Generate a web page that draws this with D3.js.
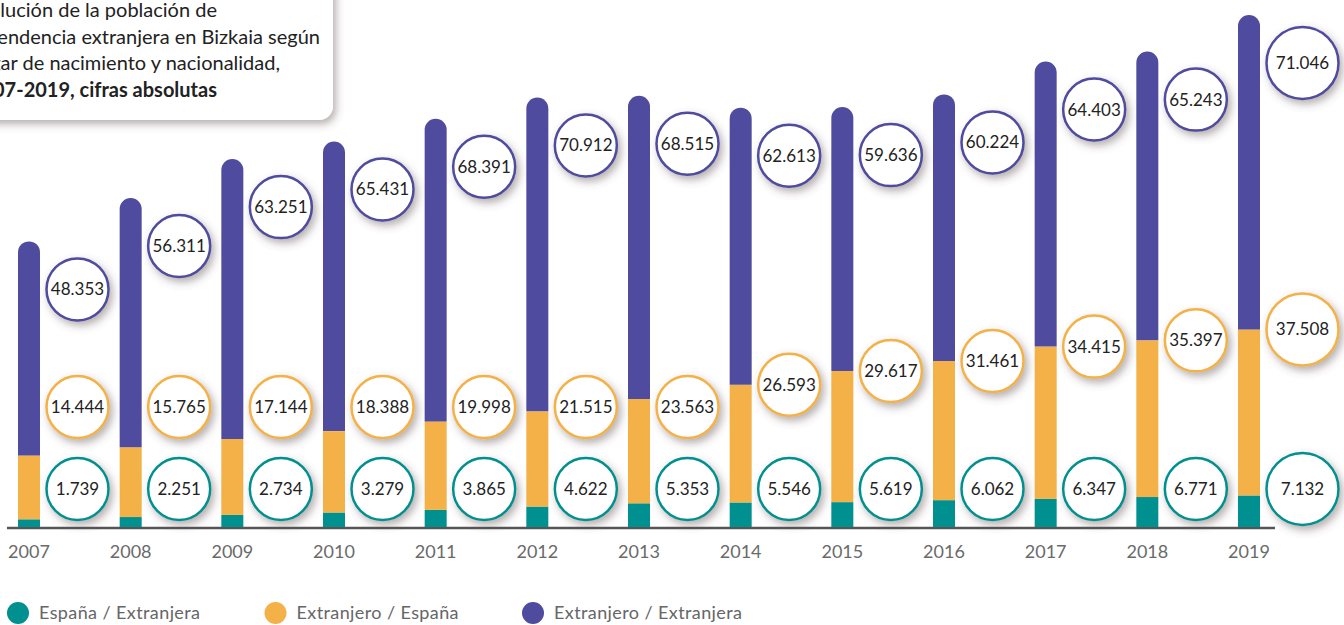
<!DOCTYPE html>
<html>
<head>
<meta charset="utf-8">
<script src="https://cdn.jsdelivr.net/npm/d3@7"></script>
<style>
    body { margin: 0; background: #fff; }
    svg { display: block; font-family: Lato, "Open Sans", sans-serif; }
</style>
</head>
<body>
<div id="chart"></div>
<script>
// Data
const years = ["2007", "2008", "2009", "2010", "2011", "2012", "2013", "2014", "2015", "2016", "2017", "2018", "2019"];
const espanaExtranjera = [1739, 2251, 2734, 3279, 3865, 4622, 5353, 5546, 5619, 6062, 6347, 6771, 7132];
const extranjeroEspana = [14444, 15765, 17144, 18388, 19998, 21515, 23563, 26593, 29617, 31461, 34415, 35397, 37508];
const extranjeroExtranjera = [48353, 56311, 63251, 65431, 68391, 70912, 68515, 62613, 59636, 60224, 64403, 65243, 71046];
const seriesNames = ["España / Extranjera", "Extranjero / España", "Extranjero / Extranjera"];
const titleLines = ["Evolución de la población de", "ascendencia extranjera en Bizkaia según", "lugar de nacimiento y nacionalidad,", "2007-2019, cifras absolutas"];

const colors = ["#00908f", "#f4b147", "#4f4b9e"];
const width = 1344, height = 625;
const baseY = 527, barW = 22;

const svg = d3.select("#chart").append("svg")
    .attr("width", width)
    .attr("height", height);

// Shadow filter for bubbles and title box
const defs = svg.append("defs");
const shadow = defs.append("filter").attr("id", "shadow")
    .attr("x", "-40%").attr("y", "-40%").attr("width", "180%").attr("height", "180%");
shadow.append("feDropShadow")
    .attr("dx", 3).attr("dy", 4)
    .attr("stdDeviation", 4)
    .attr("flood-color", "#5a4a4a")
    .attr("flood-opacity", 0.45);

const x = d3.scalePoint().domain(years).range([29, 1249]);
const totals = years.map((d, i) => espanaExtranjera[i] + extranjeroEspana[i] + extranjeroExtranjera[i]);
const y = d3.scaleLinear().domain([0, d3.max(totals)]).range([baseY, 15]);

const rows = years.map((yr, i) => {
    const a = espanaExtranjera[i], b = extranjeroEspana[i], c = extranjeroExtranjera[i];
    return { year: yr, vals: [a, b, c], stack: [[0, a], [a, a + b], [a + b, a + b + c]] };
});

// Axis baseline
svg.append("line")
    .attr("x1", 7).attr("x2", 1275)
    .attr("y1", baseY + 1).attr("y2", baseY + 1)
    .attr("stroke", "#555").attr("stroke-width", 2.5);

// Bars
const bar = svg.append("g").selectAll("g")
    .data(rows).enter().append("g");

bar.each(function(d) {
    const g = d3.select(this);
    const x0 = x(d.year) - barW / 2;
    d.stack.forEach((s, k) => {
        const top = y(s[1]), bottom = y(s[0]);
        if (k < 2) {
            g.append("rect")
                .attr("x", x0).attr("width", barW)
                .attr("y", top).attr("height", bottom - top)
                .attr("fill", colors[k]);
        } else {
            // last segment gets a rounded cap
            const r = barW / 2;
            const p = d3.path();
            p.moveTo(x0, bottom);
            p.lineTo(x0, top + r);
            p.arc(x0 + r, top + r, r, Math.PI, 0);
            p.lineTo(x0 + barW, bottom);
            p.closePath();
            g.append("path").attr("d", p.toString()).attr("fill", colors[k]);
        }
    });
});

// Value bubbles
function bubbleY(d, k) {
    if (k === 0) return 489;
    if (k === 1) {
        const t = y(d.stack[1][1]);
        return t < 395 ? t : 407;
    }
    return y(d.stack[2][1]) + 48;
}

const fmt = v => d3.format(",")(v).replace(/,/g, ".");
const bubbles = [];
rows.forEach((d, i) => {
    [0, 1, 2].forEach(k => {
        bubbles.push({ d: d, k: k, last: i === rows.length - 1 });
    });
});

const bubble = svg.append("g").selectAll("g")
    .data(bubbles).enter().append("g")
    .attr("transform", b => {
        const r = b.last ? 36.5 : 31.5;
        return `translate(${x(b.d.year) + 17 + r},${bubbleY(b.d, b.k)})`;
    });

bubble.append("circle")
    .attr("r", b => b.last ? 36 : 31)
    .attr("fill", "#fff")
    .attr("stroke", b => colors[b.k])
    .attr("stroke-width", 2.5)
    .attr("filter", "url(#shadow)");

bubble.append("text")
    .attr("text-anchor", "middle")
    .attr("dy", "0.35em")
    .attr("font-size", "17px")
    .attr("fill", "#222")
    .text(b => fmt(b.d.vals[b.k]));

// Year labels
svg.append("g").selectAll("text")
    .data(years).enter().append("text")
    .attr("x", d => x(d))
    .attr("y", 558)
    .attr("text-anchor", "middle")
    .attr("font-size", "18px")
    .attr("fill", "#6a6a6a")
    .text(d => d);

// Legend
const legend = svg.append("g").selectAll("g")
    .data(seriesNames).enter().append("g")
    .attr("transform", (d, i) => `translate(${18 + i * 257.5},613)`);

legend.append("circle")
    .attr("r", 11)
    .attr("fill", (d, i) => colors[i]);

legend.append("text")
    .attr("x", 21)
    .attr("dy", "0.35em")
    .attr("font-size", "18px")
    .attr("letter-spacing", "0.4px")
    .attr("fill", "#666")
    .text(d => d);

// Title box (runs off the top-left edge)
const titleG = svg.append("g");
titleG.append("rect")
    .attr("x", -30).attr("y", -30)
    .attr("width", 363).attr("height", 150)
    .attr("rx", 14)
    .attr("fill", "#fff")
    .attr("filter", "url(#shadow)");

// line ends as in the reference; starts run off the left edge
const lineEnds = [217, 320, 280, 217];
titleG.selectAll("text")
    .data(titleLines).enter().append("text")
    .attr("x", (d, i) => lineEnds[i])
    .attr("y", (d, i) => 17 + i * 26.5)
    .attr("text-anchor", "end")
    .attr("font-size", "20px")
    .attr("fill", "#222")
    .attr("font-weight", (d, i) => i === 3 ? "bold" : "normal")
    .text(d => d);
</script>
</body>
</html>
